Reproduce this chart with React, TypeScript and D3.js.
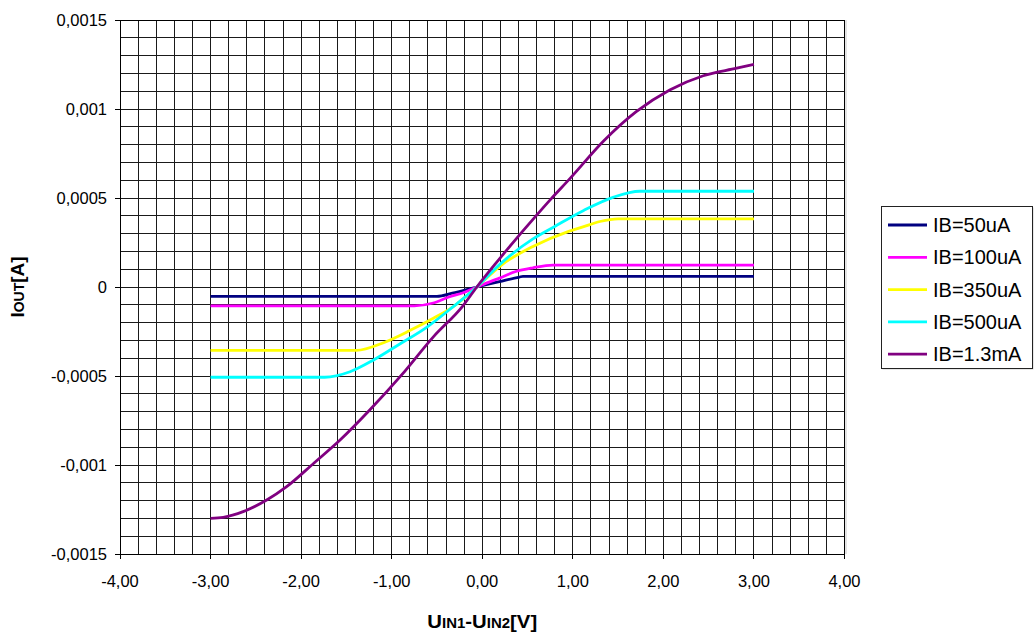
import React from "react";
import * as d3 from "d3";

// Axis ticks
const xTicks = [-4, -3, -2, -1, 0, 1, 2, 3, 4];
const yTicks = [-0.0015, -0.001, -0.0005, 0, 0.0005, 0.001, 0.0015];

// Series (x = U_IN1-U_IN2 [V], y = I_OUT [A])
const ib50: [number, number][] = [
  [-3, -0.000053], [-0.5, -0.000053], [-0.33, -0.000035], [-0.06, 0],
  [0.19, 0.00003], [0.41, 0.000056], [0.45, 0.00006], [3, 0.00006],
];
const ib100: [number, number][] = [
  [-3, -0.000106], [-0.75, -0.000106], [-0.54, -0.00009], [-0.36, -0.000055],
  [-0.21, -0.000032], [-0.06, 0], [0.19, 0.00005], [0.37, 0.000087],
  [0.56, 0.000108], [0.78, 0.000123], [3, 0.000123],
];
const ib350: [number, number][] = [
  [-3, -0.000356], [-1.39, -0.000356], [-1.09, -0.000313], [-0.8, -0.000245],
  [-0.54, -0.000176], [-0.32, -0.00011], [-0.06, 0], [0.23, 0.00013],
  [0.56, 0.000228], [0.94, 0.00031], [1.12, 0.000339], [1.3, 0.000368],
  [1.5, 0.000383], [3, 0.000383],
];
const ib500: [number, number][] = [
  [-3, -0.000507], [-1.74, -0.000507], [-1.46, -0.000476], [-1.2, -0.00041],
  [-0.91, -0.00032], [-0.61, -0.000225], [-0.32, -0.00011], [-0.06, 0],
  [0.2, 0.00013], [0.56, 0.00027], [0.8, 0.00034], [1.12, 0.00043],
  [1.45, 0.000505], [1.74, 0.000538], [3, 0.000538],
];
const ib1300: [number, number][] = [
  [-3, -0.0013], [-2.86, -0.001294], [-2.64, -0.001262], [-2.38, -0.001197],
  [-2.16, -0.001122], [-1.86, -0.00099], [-1.57, -0.00086], [-1.24, -0.00069],
  [-0.89, -0.000494], [-0.54, -0.00028], [-0.22, -0.00011], [-0.06, 0],
  [0.19, 0.000158], [0.37, 0.000268], [0.56, 0.00038], [0.76, 0.000495],
  [0.97, 0.00061], [1.34, 0.00082], [1.7, 0.000985], [2.07, 0.001107],
  [2.44, 0.001187], [2.81, 0.001229], [3, 0.001251],
];

const seriesNames = ["IB=50uA", "IB=100uA", "IB=350uA", "IB=500uA", "IB=1.3mA"];
const seriesData = [ib50, ib100, ib350, ib500, ib1300];
const seriesColors = ["#000080", "#FF00FF", "#FFFF00", "#00FFFF", "#800080"];

const W = 1034;
const H = 635;
const plot = { left: 120, right: 844.5, top: 20, bottom: 554 };

export default function App() {
  const x = d3.scaleLinear().domain([-4, 4]).range([plot.left, plot.right]);
  const y = d3.scaleLinear().domain([-0.0015, 0.0015]).range([plot.bottom, plot.top]);

  const xGrid = d3.range(-4, 4.0001, 0.2);
  const yGrid = d3.range(-0.0015, 0.00150001, 0.0001);

  const line = d3
    .line<[number, number]>()
    .x((d) => x(d[0]))
    .y((d) => y(d[1]))
    .curve(d3.curveMonotoneX);

  const fmtX = (v: number) => v.toFixed(2).replace(".", ",");
  const fmtY = (v: number) => String(+v.toFixed(4)).replace(".", ",");

  const font = "Arial, 'Liberation Sans', Helvetica, sans-serif";

  const legend = { x: 881, y: 206, w: 151, h: 162, row0: 225, rowStep: 32.3 };

  return (
    <svg
      width={W}
      height={H}
      style={{ position: "absolute", left: 0, top: 0, background: "#fff" }}
      fontFamily={font}
    >
      <rect x={0} y={0} width={W} height={H} fill="#fff" />
      {/* grid */}
      <g shapeRendering="crispEdges" stroke="#1a1a1a" strokeWidth={1}>
        {xGrid.map((v, i) => (
          <line key={"gx" + i} x1={x(v)} x2={x(v)} y1={plot.top} y2={plot.bottom} />
        ))}
        {yGrid.map((v, i) => (
          <line key={"gy" + i} x1={plot.left} x2={plot.right} y1={y(v)} y2={y(v)} />
        ))}
      </g>
      {/* frame */}
      <rect
        x={plot.left}
        y={plot.top}
        width={plot.right - plot.left}
        height={plot.bottom - plot.top}
        fill="none"
        stroke="#000"
        strokeWidth={1}
        shapeRendering="crispEdges"
      />
      <line x1={plot.right + 1.5} x2={plot.right + 1.5} y1={plot.top} y2={plot.bottom} stroke="#c8c8c8" strokeWidth={1} />
      {/* axes */}
      <g shapeRendering="crispEdges" stroke="#000">
        <line x1={plot.left} x2={plot.left} y1={plot.top} y2={plot.bottom} />
        {yTicks.map((v, i) => (
          <line key={"yt" + i} x1={plot.left - 5} x2={plot.left} y1={y(v)} y2={y(v)} />
        ))}
        <line x1={plot.left} x2={plot.right} y1={plot.bottom} y2={plot.bottom} />
        {xTicks.map((v, i) => (
          <line key={"xt" + i} x1={x(v)} x2={x(v)} y1={plot.bottom} y2={plot.bottom + 5} />
        ))}
      </g>
      {yTicks.map((v, i) => (
        <text key={"yl" + i} x={107} y={y(v) + 6} textAnchor="end" fontSize={16.5} fill="#000">
          {fmtY(v)}
        </text>
      ))}
      {xTicks.map((v, i) => (
        <text key={"xl" + i} x={x(v)} y={586.5} textAnchor="middle" fontSize={16.5} fill="#000">
          {fmtX(v)}
        </text>
      ))}
      {/* series */}
      {seriesData.map((s, i) => (
        <path key={"s" + i} d={line(s) || ""} fill="none" stroke={seriesColors[i]} strokeWidth={2.8} strokeLinejoin="round" />
      ))}
      {/* axis titles */}
      <g transform={`translate(${(plot.left + plot.right) / 2},628) scale(1.07,1)`}>
        <text x={0} y={0} textAnchor="middle" fontWeight="bold" fontSize={19} fill="#000">
          U<tspan fontSize={14}>IN1</tspan>-U<tspan fontSize={14}>IN2</tspan>[V]
        </text>
      </g>
      <g transform={`translate(24,${(plot.top + plot.bottom) / 2}) rotate(-90)`}>
        <text x={0} y={0} textAnchor="middle" fontWeight="bold" fontSize={19} fill="#000">
          I<tspan fontSize={14}>OUT</tspan>[A]
        </text>
      </g>
      {/* legend */}
      <rect x={legend.x + 1.5} y={legend.y + 1.5} width={legend.w} height={legend.h} fill="#d0d0d0" />
      <rect x={legend.x} y={legend.y} width={legend.w} height={legend.h} fill="#fff" stroke="#222" strokeWidth={1} shapeRendering="crispEdges" />
      {seriesNames.map((n, i) => {
        const cy = legend.row0 + i * legend.rowStep;
        return (
          <g key={"lg" + i}>
            <line x1={888} x2={927} y1={cy} y2={cy} stroke={seriesColors[i]} strokeWidth={2.8} />
            <text x={933} y={cy + 7} fontSize={20} fill="#000">
              {n}
            </text>
          </g>
        );
      })}
    </svg>
  );
}
